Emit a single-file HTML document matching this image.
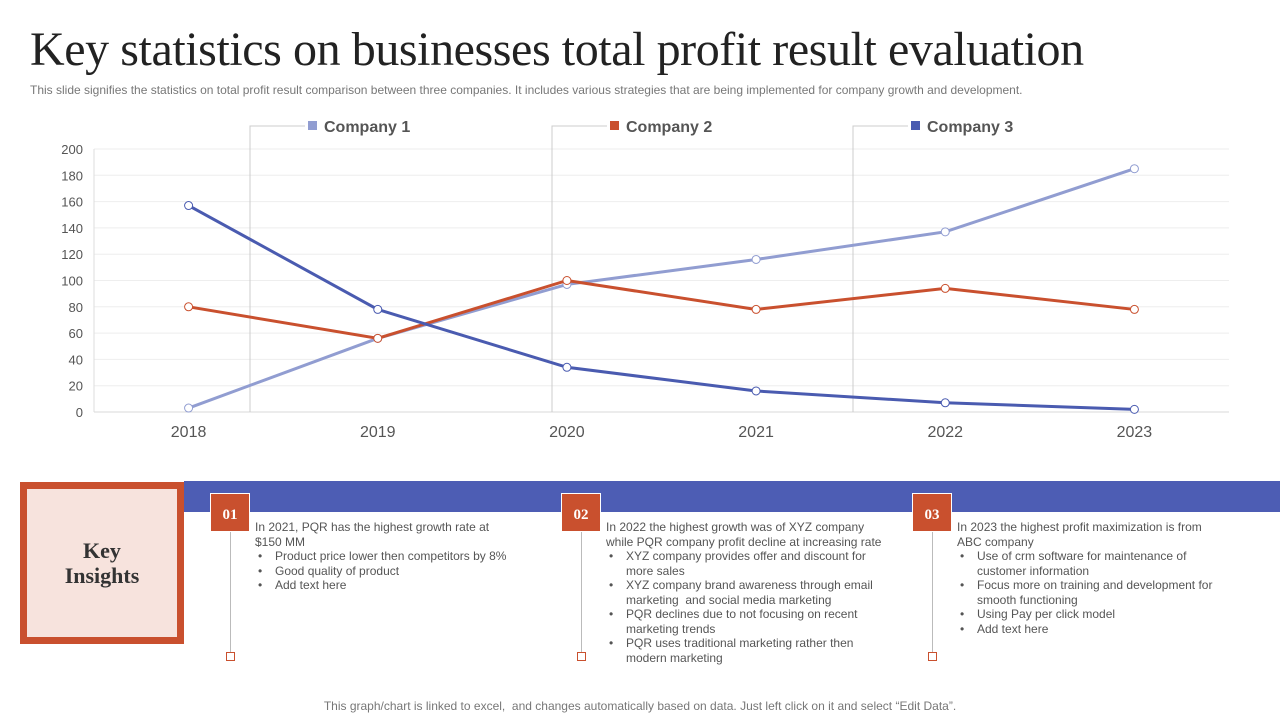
<!DOCTYPE html>
<html><head><meta charset="utf-8"><style>
body{margin:0;width:1280px;height:720px;background:#fff;position:relative;overflow:hidden;font-family:"Liberation Sans",sans-serif}
.abs{position:absolute}
h1{position:absolute;left:30px;top:22px;margin:0;font:400 48px "Liberation Serif",serif;color:#222;letter-spacing:-0.42px;white-space:nowrap}
.sub{left:30px;top:83px;font-size:12px;color:#777;white-space:nowrap}
.num{width:40px;height:39px;background:#c9502e;color:#fff;font:bold 15px "Liberation Serif",serif;text-align:center;line-height:42px;border:1px solid #fff;box-sizing:border-box}
.vl{width:1px;background:#bbb}
.sq{width:9px;height:9px;border:1px solid #c9502e;box-sizing:border-box;background:#fff}
.txt{font-size:12px;color:#555;line-height:14.5px}
.txt ul{margin:0;padding:0 0 0 20px}
.txt li{list-style:none;position:relative}
.txt li:before{content:"•";position:absolute;left:-17px}
</style></head><body>
<h1>Key statistics on businesses total profit result evaluation</h1>
<div class="abs sub">This slide signifies the statistics on total profit result comparison between three companies. It includes various strategies that are being implemented for company growth and development.</div>
<svg class="abs" style="left:0;top:0" width="1280" height="460" id="chart"></svg>

<div class="abs" style="left:20px;top:482px;width:164px;height:162px;background:#c9502e">
<div class="abs" style="left:7px;top:7px;width:150px;height:148px;background:#f7e3dd;display:flex;align-items:center;justify-content:center;text-align:center;font:bold 22px/25px 'Liberation Serif',serif;color:#333">Key<br>Insights</div></div>
<div class="abs" style="left:184px;top:481px;width:1096px;height:31px;background:#4d5db4"></div>

<div class="abs num" style="left:210px;top:493px">01</div>
<div class="abs vl" style="left:230px;top:532px;height:120px"></div>
<div class="abs sq" style="left:226px;top:652px"></div>
<div class="abs txt" style="left:255px;top:520px;width:268px">In 2021, PQR has the highest growth rate at<br>$150 MM<ul><li>Product price lower then competitors by 8%</li><li>Good quality of product</li><li>Add text here</li></ul></div>

<div class="abs num" style="left:561px;top:493px">02</div>
<div class="abs vl" style="left:581px;top:532px;height:120px"></div>
<div class="abs sq" style="left:577px;top:652px"></div>
<div class="abs txt" style="left:606px;top:520px;width:282px">In 2022 the highest growth was of XYZ company while PQR company profit decline at increasing rate<ul><li>XYZ company provides offer and discount for more sales</li><li>XYZ company brand awareness through email marketing &nbsp;and social media marketing</li><li>PQR declines due to not focusing on recent marketing trends</li><li>PQR uses traditional marketing rather then modern marketing</li></ul></div>

<div class="abs num" style="left:912px;top:493px">03</div>
<div class="abs vl" style="left:932px;top:532px;height:120px"></div>
<div class="abs sq" style="left:928px;top:652px"></div>
<div class="abs txt" style="left:957px;top:520px;width:260px">In 2023 the highest profit maximization is from ABC company<ul><li>Use of crm software for maintenance of customer information</li><li>Focus more on training and development for smooth functioning</li><li>Using Pay per click model</li><li>Add text here</li></ul></div>

<div class="abs" style="left:0;width:1280px;top:699px;text-align:center;font-size:12px;color:#777">This graph/chart is linked to excel, &nbsp;and changes automatically based on data. Just left click on it and select “Edit Data”.</div>

<script>
const categories=["2018","2019","2020","2021","2022","2023"];
const seriesNames=["Company 1","Company 2","Company 3"];
const company1=[3,56,97,116,137,185];
const company2=[80,56,100,78,94,78];
const company3=[157,78,34,16,7,2];
const yTicks=[0,20,40,60,80,100,120,140,160,180,200];
const colors=["#919dd1","#c9502e","#4a5bb0"];
const svg=document.getElementById('chart');
const NS="http://www.w3.org/2000/svg";
const L=94,R=1229,T=149,B=412,yMax=200;
const bw=(R-L)/categories.length;
const x=i=>L+bw*(i+0.5);
const y=v=>B-(v/yMax)*(B-T);
function mk(t,a){const e=document.createElementNS(NS,t);for(const k in a)e.setAttribute(k,a[k]);svg.appendChild(e);return e;}
yTicks.forEach(v=>{
 const g=mk('line',{x1:L,x2:R,y1:y(v),y2:y(v),stroke:v?'#eee':'#d9d9d9'});
 
 
 const t=mk('text',{x:L-11,y:y(v)+5,'text-anchor':'end','font-size':13,fill:'#555'});t.textContent=v;
 
 
});
mk('line',{x1:L,x2:L,y1:T,y2:B,stroke:'#ddd'});
categories.forEach((c,i)=>{const t=mk('text',{x:x(i),y:437,'text-anchor':'middle','font-size':16,fill:'#555'});t.textContent=c;
 
 });
const legX=[250,552,853];
seriesNames.forEach((n,i)=>{
 mk('polyline',{points:`${legX[i]},${B} ${legX[i]},126 ${legX[i]+55},126`,fill:'none',stroke:'#ccc'});
 const r=mk('rect',{x:legX[i]+58,y:121,width:9,height:9,fill:colors[i]});
 
 
 const t=mk('text',{x:legX[i]+74,y:132,'font-size':16,'font-weight':'bold',fill:'#555'});t.textContent=n;
 
 
});
[company1,company2,company3].forEach((d,s)=>{
 const p=mk('polyline',{points:d.map((v,i)=>x(i)+','+y(v)).join(' '),fill:'none',stroke:colors[s],'stroke-width':3});
 
 
 d.forEach((v,i)=>{const c=mk('circle',{cx:x(i),cy:y(v),r:4,fill:'#fff',stroke:colors[s],'stroke-width':1});
  
  });
});
</script>
</body></html>
